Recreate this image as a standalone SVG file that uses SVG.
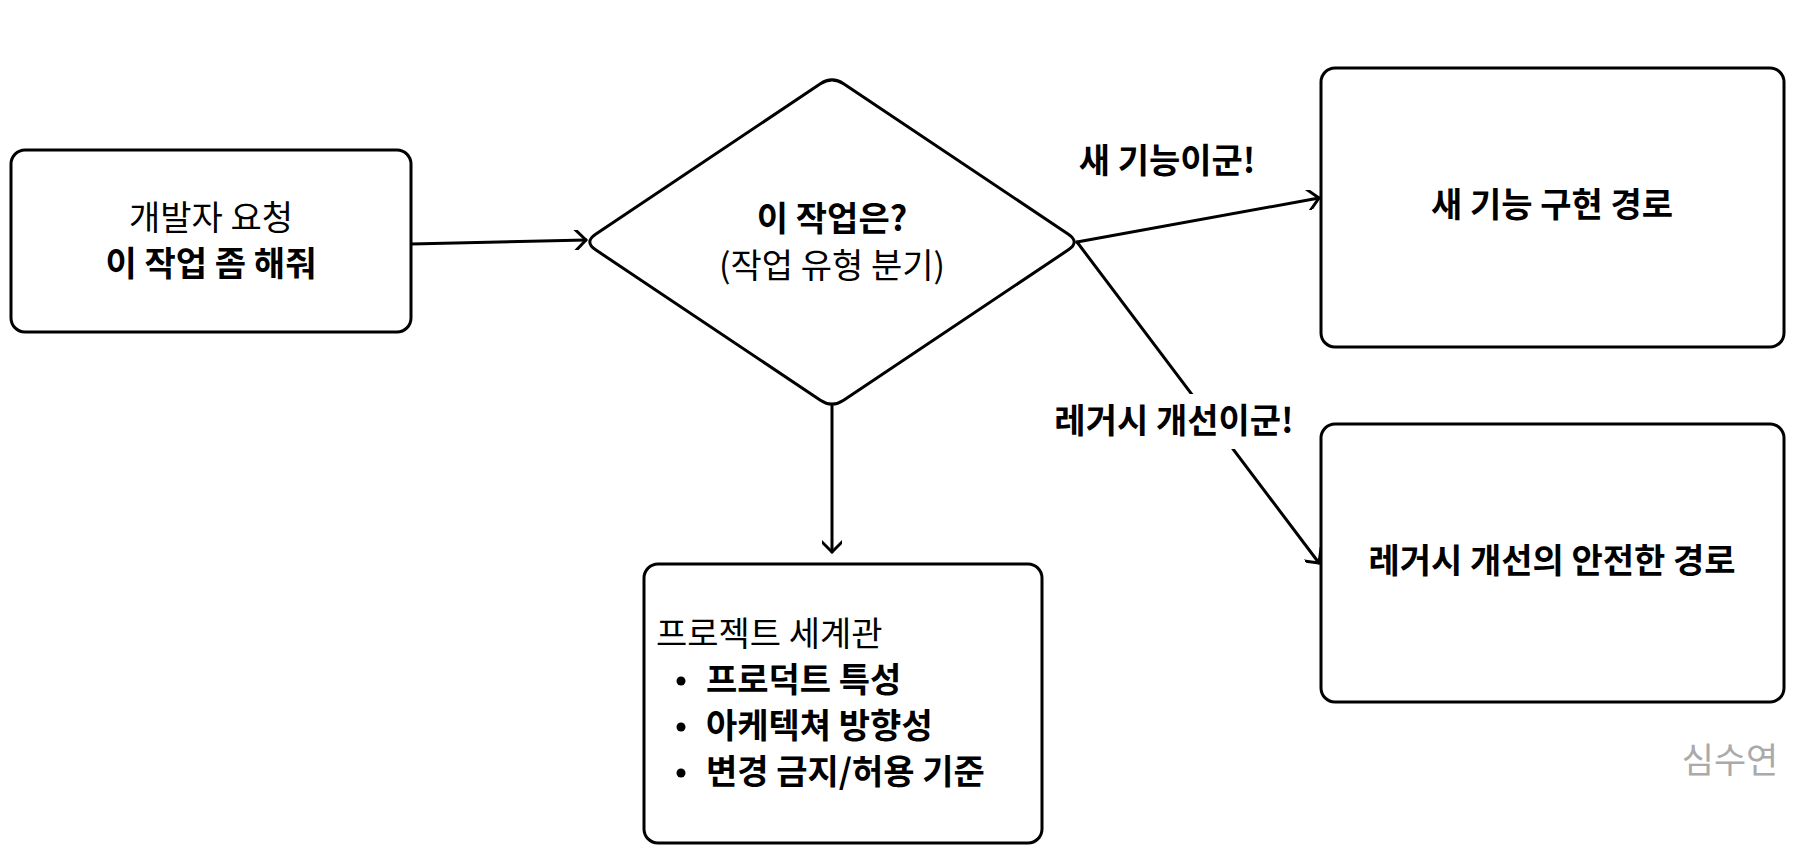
<svg xmlns="http://www.w3.org/2000/svg" width="1800" height="856" viewBox="0 0 1800 856">
  <style>
    .box { fill: #ffffff; stroke: #000000; stroke-width: 3; }
    .edge { fill: none; stroke: #000000; stroke-width: 3; stroke-linecap: round; }
    .t { font-family: "Noto Sans CJK KR", "Noto Sans", sans-serif; font-size: 34px; fill: #000000; }
    .b { font-weight: 700; }
    .c { text-anchor: middle; }
    .sig { font-family: "Noto Sans CJK KR", "Noto Sans", sans-serif; font-size: 35px; fill: #aaaaaa; }
  </style>
  <defs>
    <marker id="arrow" viewBox="0 0 20 20" refX="18" refY="10" markerWidth="20" markerHeight="20" markerUnits="userSpaceOnUse" orient="auto">
      <path d="M 6 -2 L 18 10 L 6 22" fill="none" stroke="#000000" stroke-width="3" stroke-linecap="round" stroke-linejoin="round"/>
    </marker>
  </defs>
  <rect width="1800" height="856" fill="#ffffff"/>

  <g id="connectors">
    <path class="edge" d="M 411 244 L 586 240" marker-end="url(#arrow)"/>
    <path class="edge" d="M 1077 242 L 1319 198" marker-end="url(#arrow)"/>
    <path class="edge" d="M 1077 242 L 1319 563" marker-end="url(#arrow)"/>
    <path class="edge" d="M 832 406 L 832 552" marker-end="url(#arrow)"/>
    <g id="label-new">
      <text class="t b c" x="1167" y="173">새 기능이군!</text>
    </g>
    <g id="label-legacy">
      <rect x="1045" y="394" width="260" height="55" fill="#ffffff"/>
      <text class="t b c" x="1174" y="433">레거시 개선이군!</text>
    </g>
  </g>

  <g id="node-request">
    <rect class="box" x="11" y="150" width="400" height="182" rx="14"/>
    <text class="t c" x="211" y="230">개발자 요청</text>
    <text class="t b c" x="211" y="276">이 작업 좀 해줘</text>
  </g>

  <g id="node-decision">
    <path class="box" d="M 843.6 83.8 L 1068.4 234.2 Q 1080 242 1068.4 249.8 L 843.6 400.2 Q 832 408 820.4 400.2 L 595.6 249.8 Q 584 242 595.6 234.2 L 820.4 83.8 Q 832 76 843.6 83.8 Z"/>
    <text class="t b c" x="832" y="231">이 작업은?</text>
    <text class="t c" x="832" y="278">(작업 유형 분기)</text>
  </g>

  <g id="node-new-feature">
    <rect class="box" x="1321" y="68" width="463" height="279" rx="14"/>
    <text class="t b c" x="1552" y="217">새 기능 구현 경로</text>
  </g>

  <g id="node-legacy">
    <rect class="box" x="1321" y="424" width="463" height="278" rx="14"/>
    <text class="t b c" x="1552" y="573">레거시 개선의 안전한 경로</text>
  </g>

  <g id="node-worldview">
    <rect class="box" x="644" y="564" width="398" height="279" rx="14"/>
    <text class="t" x="656" y="646">프로젝트 세계관</text>
    <circle cx="681" cy="681" r="4.5" fill="#000000"/>
    <text class="t b" x="706" y="692">프로덕트 특성</text>
    <circle cx="681" cy="727" r="4.5" fill="#000000"/>
    <text class="t b" x="706" y="738">아케텍쳐 방향성</text>
    <circle cx="681" cy="773" r="4.5" fill="#000000"/>
    <text class="t b" x="706" y="784">변경 금지/허용 기준</text>
  </g>

  <text class="sig" x="1730" y="773" text-anchor="middle">심수연</text>
</svg>
